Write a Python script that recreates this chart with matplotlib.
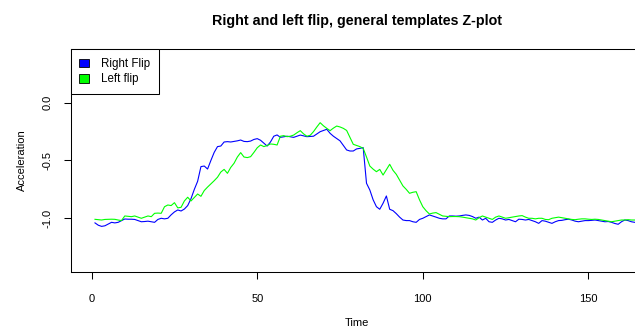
import matplotlib
matplotlib.use("Agg")
import matplotlib.pyplot as plt
from matplotlib.patches import Patch

plt.rcParams["font.family"] = ["Liberation Sans", "DejaVu Sans"]

# Z-axis acceleration templates, one sample per time step (1..165)
right_flip = [
    -1.04, -1.06, -1.07, -1.065, -1.05, -1.035, -1.04, -1.035, -1.02, -1.006,
    -1.008, -1.008, -1.01, -1.02, -1.03, -1.028, -1.025, -1.03, -1.035, -1.01,
    -1.0, -1.005, -1.0, -0.97, -0.945, -0.928, -0.937, -0.92, -0.89, -0.83,
    -0.75, -0.68, -0.553, -0.548, -0.574, -0.5, -0.43, -0.38, -0.375, -0.34,
    -0.337, -0.34, -0.335, -0.33, -0.323, -0.335, -0.337, -0.332, -0.318, -0.311,
    -0.325, -0.35, -0.375, -0.34, -0.29, -0.279, -0.3, -0.295, -0.29, -0.295,
    -0.3, -0.29, -0.28, -0.287, -0.294, -0.292, -0.29, -0.27, -0.251, -0.24,
    -0.23, -0.265, -0.29, -0.31, -0.33, -0.37, -0.409, -0.418, -0.418, -0.4,
    -0.395, -0.389, -0.697, -0.755, -0.84, -0.9, -0.922, -0.87, -0.807, -0.922,
    -0.934, -0.96, -0.99, -1.015, -1.02, -1.02, -1.03, -1.035, -1.01, -1.0,
    -0.985, -0.971, -0.98, -0.99, -1.0, -1.005, -1.005, -0.98, -0.98, -0.982,
    -0.98, -0.975, -0.971, -0.975, -0.985, -1.0, -0.99, -1.015, -1.0, -1.03,
    -1.035, -1.015, -1.0, -1.005, -1.015, -1.01, -1.02, -1.03, -1.008, -1.01,
    -1.015, -1.01, -1.02, -1.03, -1.044, -1.02, -1.025, -1.035, -1.044, -1.03,
    -1.02, -1.018, -1.012, -1.008, -1.015, -1.025, -1.03, -1.025, -1.02, -1.02,
    -1.018, -1.015, -1.02, -1.025, -1.03, -1.028, -1.035, -1.045, -1.052, -1.03,
    -1.015, -1.02, -1.03, -1.035, -1.035,
]
left_flip = [
    -1.009, -1.012, -1.015, -1.01, -1.009, -1.008, -1.009, -1.015, -1.02, -0.98,
    -0.983, -0.986, -0.98, -0.99, -1.0, -0.99, -0.98, -0.986, -0.957, -0.955,
    -0.957, -0.9, -0.885, -0.89, -0.865, -0.91, -0.905, -0.85, -0.818, -0.85,
    -0.82, -0.79, -0.81, -0.76, -0.73, -0.703, -0.675, -0.645, -0.6, -0.577,
    -0.611, -0.56, -0.524, -0.47, -0.432, -0.47, -0.475, -0.467, -0.43, -0.39,
    -0.366, -0.38, -0.37, -0.357, -0.36, -0.366, -0.29, -0.285, -0.294, -0.29,
    -0.28, -0.26, -0.242, -0.27, -0.29, -0.282, -0.25, -0.21, -0.173, -0.2,
    -0.222, -0.242, -0.22, -0.202, -0.21, -0.222, -0.24, -0.3, -0.36, -0.37,
    -0.38, -0.395, -0.47, -0.548, -0.575, -0.597, -0.577, -0.626, -0.58, -0.533,
    -0.585, -0.62, -0.67, -0.72, -0.75, -0.784, -0.775, -0.77, -0.84, -0.9,
    -0.935, -0.963, -0.955, -0.951, -0.965, -0.98, -0.983, -0.986, -0.985, -0.985,
    -0.986, -0.99, -0.995, -1.0, -1.005, -1.015, -0.995, -0.98, -0.99, -1.0,
    -1.01, -0.99, -0.98, -0.99, -1.0, -0.995, -0.99, -0.985, -0.98, -0.977,
    -0.99, -1.0, -1.0, -1.005, -1.0, -1.0, -1.01, -1.012, -1.0, -0.995,
    -0.99, -0.995, -1.0, -1.005, -1.01, -1.012, -1.008, -1.005, -1.005, -1.008,
    -1.01, -1.008, -1.01, -1.015, -1.02, -1.025, -1.03, -1.025, -1.02, -1.015,
    -1.015, -1.012, -1.015, -1.015, -1.015,
]
time = list(range(1, len(right_flip) + 1))

x_ticks = [0, 50, 100, 150]
y_ticks = [0.0, -0.5, -1.0]
y_tick_labels = ["0.0", "-0.5", "-1.0"]

fig = plt.figure(figsize=(6.35, 3.31), dpi=100)
# plotting region runs a little past the right edge of the figure
ax = fig.add_axes([0.1113, 0.1792, 0.9013, 0.6719])

ax.plot(time, right_flip, color="#0000FF", lw=0.8)
ax.plot(time, left_flip, color="#00FF00", lw=0.8)

ax.set_xlim(-6.34, 166.5)
ax.set_ylim(-1.462, 0.462)
ax.set_xticks(x_ticks)
ax.set_yticks(y_ticks)
ax.set_yticklabels(y_tick_labels, rotation=90, va="center")
ax.tick_params(direction="out", length=5, width=0.75, labelsize=8)
ax.tick_params(axis="x", pad=11)
ax.tick_params(axis="y", pad=8)
for side in ("left", "bottom", "top"):
    ax.spines[side].set_linewidth(0.75)
ax.spines["right"].set_visible(False)

ax.set_xlabel("Time", fontsize=8, labelpad=10)
ax.set_ylabel("Acceleration", fontsize=8, labelpad=11)
fig.text(0.5625, 0.937, "Right and left flip, general templates Z-plot",
         ha="center", va="center", fontsize=10.3, fontweight="bold")

handles = [
    Patch(facecolor="#0000FF", edgecolor="black", lw=0.6, label="Right Flip"),
    Patch(facecolor="#00FF00", edgecolor="black", lw=0.6, label="Left flip"),
]
leg = ax.legend(handles=handles, loc="upper left", bbox_to_anchor=(0, 1),
                borderaxespad=0, fancybox=False, framealpha=1, fontsize=8.3,
                handlelength=0.8, handleheight=0.8, handletextpad=1.1,
                labelspacing=0.3, borderpad=0.75)
leg.get_frame().set_edgecolor("black")
leg.get_frame().set_linewidth(0.75)

fig.savefig("out.png", dpi=100)
